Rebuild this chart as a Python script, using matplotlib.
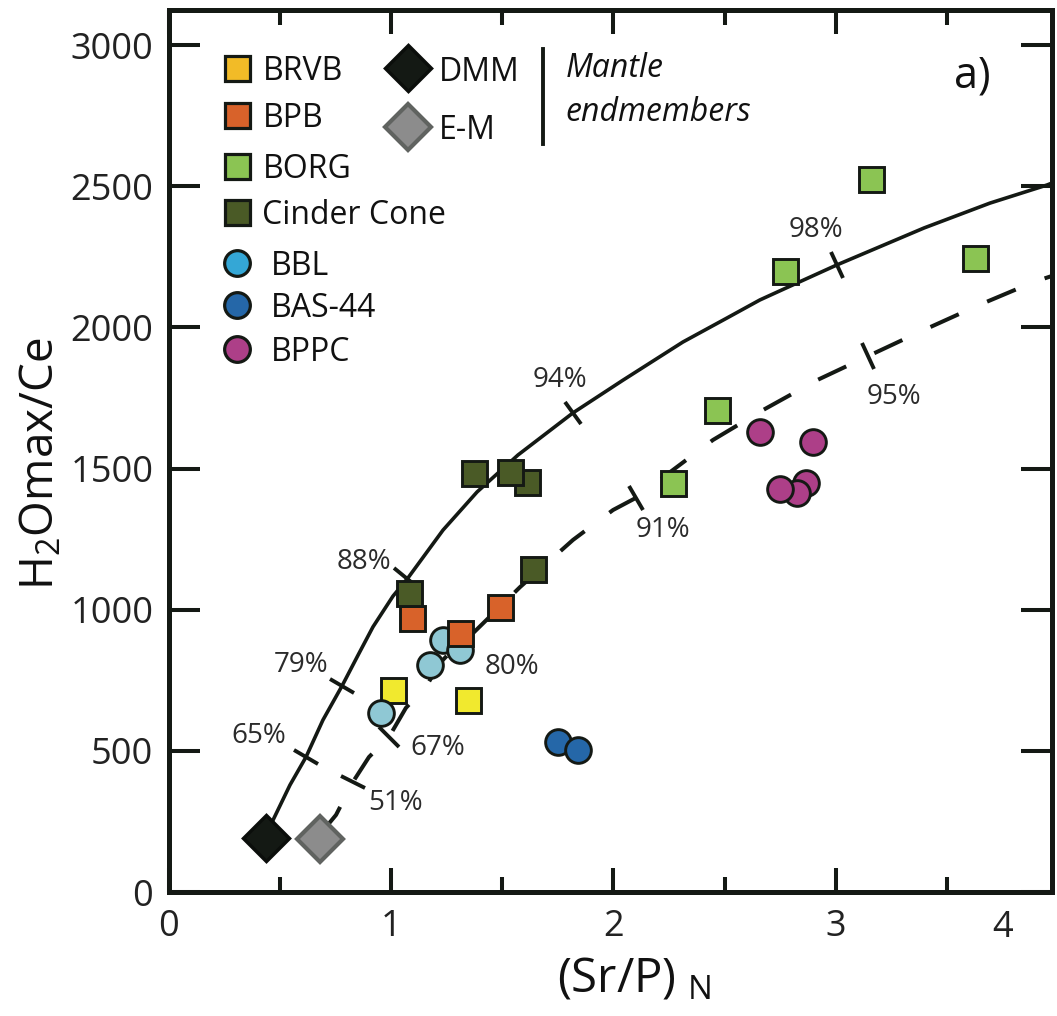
import numpy as np
import matplotlib
matplotlib.use("Agg")
import matplotlib.pyplot as plt
from matplotlib.markers import MarkerStyle
from matplotlib.transforms import Affine2D, blended_transform_factory

plt.rcParams['font.family'] = ['Open Sans', 'DejaVu Sans']
plt.rcParams['mathtext.fontset'] = 'custom'
plt.rcParams['mathtext.rm'] = 'Open Sans'
plt.rcParams['mathtext.default'] = 'regular'

# sample data
brvb_x = [1.009, 1.346]
brvb_y = [715, 680]
bpb_x = [1.094, 1.310, 1.490]
bpb_y = [970, 917, 1009]
borg_x = [2.771, 3.157, 3.625, 2.465, 2.267]
borg_y = [2200, 2525, 2246, 1707, 1449]
cinder_x = [1.373, 1.611, 1.535, 1.081, 1.638]
cinder_y = [1484, 1452, 1488, 1059, 1144]
bbl_x = [0.955, 1.175, 1.234, 1.310]
bbl_y = [634, 804, 893, 857]
bas_x = [1.751, 1.840]
bas_y = [531, 503]
bppc_x = [2.866, 2.825, 2.748, 2.897, 2.658]
bppc_y = [1449, 1413, 1427, 1594, 1629]
dmm_x, dmm_y = [0.439], [191]
em_x, em_y = [0.681], [188]

# melting curves
dmm_cx = [0.447, 0.470, 0.546, 0.618, 0.694, 0.780, 0.852, 0.919, 1.009, 1.076, 1.234, 1.387,
          1.571, 1.818, 2.043, 2.312, 2.510, 2.658, 2.825, 3.004, 3.396, 3.692, 3.948, 3.971]
dmm_cy = [198, 255, 379, 478, 609, 730, 839, 939, 1048, 1112, 1282, 1417,
          1548, 1697, 1813, 1948, 2033, 2097, 2157, 2221, 2352, 2440, 2504, 2511]
em_cx = [0.690, 0.753, 0.829, 0.901, 0.991, 1.067, 1.162, 1.220, 1.292, 1.369, 1.580, 1.818,
         1.998, 2.101, 2.178, 2.447, 2.672, 2.915, 3.144, 3.396, 3.643, 3.890, 3.971]
em_cy = [213, 273, 390, 478, 549, 652, 733, 811, 870, 917, 1080, 1247,
         1353, 1396, 1442, 1601, 1707, 1813, 1898, 1991, 2079, 2161, 2182]

# melt fraction marks
dmm_tick_x = [0.618, 0.780, 1.063, 1.818, 3.004]
dmm_tick_y = [478, 730, 1116, 1697, 2221]
dmm_tick_lab = ['65%', '79%', '88%', '94%', '98%']
dmm_lab_x = [0.407, 0.596, 0.880, 1.760, 2.911]
dmm_lab_y = [553, 804, 1169, 1813, 2345]
em_tick_x = [0.829, 0.991, 1.292, 2.101, 3.144]
em_tick_y = [390, 549, 870, 1396, 1898]
em_tick_lab = ['51%', '67%', '80%', '91%', '95%']
em_lab_x = [1.022, 1.211, 1.544, 2.222, 3.261]
em_lab_y = [315, 510, 797, 1282, 1753]

dark = '#141914'

fig = plt.figure(figsize=(10.57, 10.16), dpi=100)
W, H = 1057, 1016
ax = fig.add_axes([168.5 / W, 1 - 892 / H, (1052 - 168.5) / W, (892 - 10) / H])
ax.set_xlim(0, 3.971)
ax.set_ylim(0, 3124)

for s in ax.spines.values():
    s.set_linewidth(3.6)
    s.set_color(dark)

ax.set_xticks([0, 1, 2, 3])
ax.set_xticks([0.5, 1.5, 2.5, 3.5], minor=True)
ax.set_yticks(range(0, 3001, 500))
ax.tick_params(which='both', direction='in', top=True, right=True, width=2.9, color=dark,
               labelsize=26, labelcolor='#222222')
ax.tick_params(axis='y', which='major', length=22, pad=11)
ax.tick_params(axis='x', which='major', length=17, pad=12)
ax.tick_params(axis='x', which='minor', length=11)
ax.text(3.75, -0.0205, '4', transform=blended_transform_factory(ax.transData, ax.transAxes),
        ha='center', va='top', fontsize=26, color='#222222')

ax.set_xlabel('(Sr/P)$_{\\ N}$', fontsize=34, color='#111111')
ax.xaxis.set_label_coords(0.527, -0.072)
ax.set_ylabel('H$_2$Omax/Ce', fontsize=33, color='#111111')
ax.yaxis.set_label_coords(-0.118, 0.486)

# curves
ax.plot(dmm_cx, dmm_cy, color=dark, lw=2.6, zorder=2, solid_capstyle='butt')
ax.plot(em_cx, em_cy, color=dark, lw=2.9, dashes=(7.7, 7.7), zorder=2, dash_capstyle='butt')


def tick_marks(cx, cy, tx, ty):
    pts = ax.transData.transform(np.column_stack([cx, cy]))
    for x, y in zip(tx, ty):
        i = int(np.searchsorted(cx, x))
        i = min(max(i, 1), len(cx) - 1)
        d = pts[i] - pts[i - 1]
        ang = np.degrees(np.arctan2(d[1], d[0]))
        m = MarkerStyle('|', transform=Affine2D().rotate_deg(ang))
        ax.plot([x], [y], marker=m, ms=20, mew=2.8, color=dark, ls='none', zorder=2)


tick_marks(dmm_cx, dmm_cy, dmm_tick_x, dmm_tick_y)
tick_marks(em_cx, em_cy, em_tick_x, em_tick_y)
for x, y, t in zip(dmm_lab_x + em_lab_x, dmm_lab_y + em_lab_y, dmm_tick_lab + em_tick_lab):
    ax.text(x, y, t, fontsize=20, color='#2b2b2b', ha='center', va='center')

# samples
sq = dict(marker='s', ms=18, mew=2.1, mec=dark, ls='none', zorder=3)
ci = dict(marker='o', ms=18.5, mew=2.1, mec=dark, ls='none', zorder=3)
ax.plot(brvb_x, brvb_y, mfc='#f1e92e', **sq)
ax.plot(bbl_x, bbl_y, mfc='#8fc8d4', **ci)
ax.plot(bpb_x, bpb_y, mfc='#d8622a', **sq)
ax.plot(cinder_x, cinder_y, mfc='#4a5a26', **sq)
ax.plot(borg_x, borg_y, mfc='#8bc453', **sq)
ax.plot(bas_x, bas_y, mfc='#2567a8', **ci)
ax.plot(bppc_x, bppc_y, mfc='#ad3f88', **ci)
ax.plot(dmm_x, dmm_y, marker='D', ms=23.5, mfc=dark, mec='#0b0e0b', mew=2.5, ls='none', zorder=4)
ax.plot(em_x, em_y, marker='D', ms=23.5, mfc='#8c8c8c', mec='#606360', mew=3, ls='none', zorder=4)

# legend, placed by hand in pixel positions
def px(x, y):
    return ((x - 168) / 884.0, (892 - y) / 882.0)


leg = [('BRVB', 's', '#f2bb27', 80), ('BPB', 's', '#d8622a', 127), ('BORG', 's', '#8bc453', 178),
       ('Cinder Cone', 's', '#4a5a26', 224), ('BBL', 'o', '#34a7d6', 275),
       ('BAS-44', 'o', '#2567a8', 317), ('BPPC', 'o', '#ad3f88', 361)]
for lab, mk, col, base in leg:
    ax.plot(*px(237, base - 12), marker=mk, ms=18 if mk == 's' else 18.5, mfc=col, mec=dark,
            mew=2.3, transform=ax.transAxes, clip_on=False, ls='none', zorder=5)
    ax.text(*px(262 if mk == 's' else 270, base), lab, fontsize=23, color='#111111',
            transform=ax.transAxes, va='baseline', ha='left')

ax.plot(*px(408, 68), marker='D', ms=23.5, mfc=dark, mec='#0b0e0b', mew=2.5,
        transform=ax.transAxes, ls='none', zorder=5)
ax.plot(*px(408, 127), marker='D', ms=23.5, mfc='#8c8c8c', mec='#606360', mew=3,
        transform=ax.transAxes, ls='none', zorder=5)
ax.text(*px(439, 81), 'DMM', fontsize=23, color='#111111', transform=ax.transAxes, va='baseline')
ax.text(*px(439, 139), 'E-M', fontsize=23, color='#111111', transform=ax.transAxes, va='baseline')
b0, b1 = px(543, 49), px(543, 144)
ax.plot([b0[0], b1[0]], [b0[1], b1[1]], color=dark, lw=2.8, transform=ax.transAxes)
ax.text(*px(565, 77), 'Mantle', fontsize=23, style='italic', color='#111111',
        transform=ax.transAxes, va='baseline')
ax.text(*px(565, 121), 'endmembers', fontsize=23, style='italic', color='#111111',
        transform=ax.transAxes, va='baseline')

ax.text(*px(972, 76), 'a)', fontsize=31, color='#111111', transform=ax.transAxes,
        ha='center', va='center')

fig.savefig('out.png', dpi=100)
